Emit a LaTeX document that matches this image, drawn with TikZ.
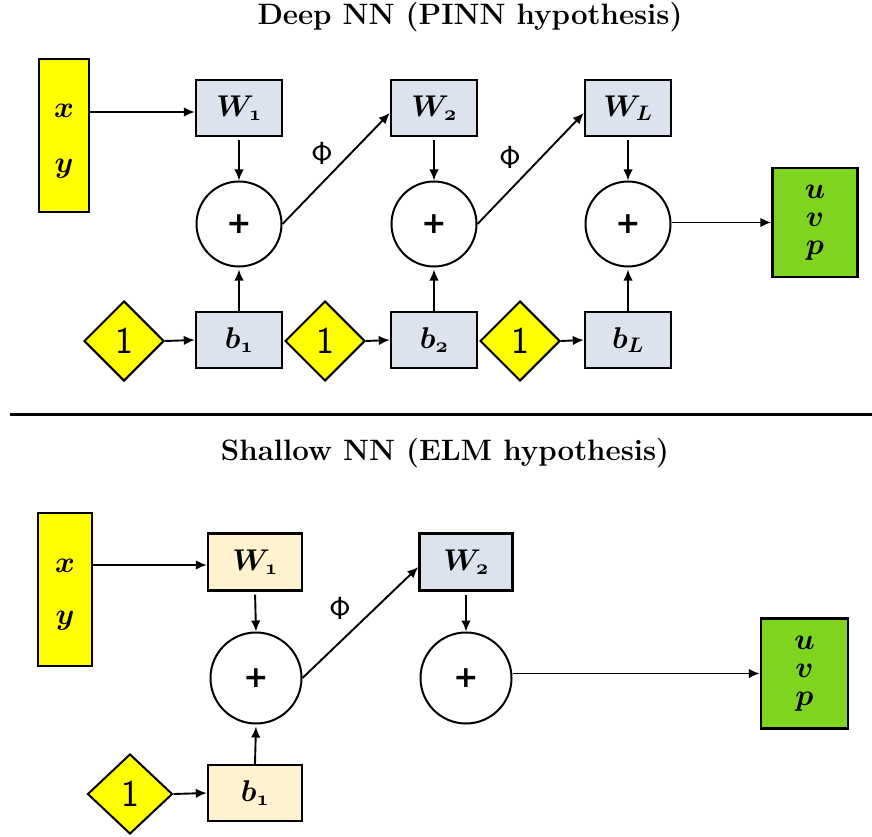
\RequirePackage{fix-cm}
\documentclass[tikz,border=0pt]{standalone}
\usepackage[no-math]{fontspec}
\newfontfamily\plusfont{DejaVu Sans}
\usetikzlibrary{shapes.geometric,arrows.meta}
\definecolor{boxblue}{HTML}{DCE3EE}
\definecolor{boxcream}{HTML}{FFF2CF}
\definecolor{outgreen}{HTML}{7ED41E}
\definecolor{inyellow}{HTML}{FFFF00}
\begin{document}
\begin{tikzpicture}[x=1pt,y=-1pt,
  mfont/.style={font=\boldmath\fontsize{30}{30}\selectfont},
  wbox/.style={draw, line width=2.4pt, fill=boxblue, minimum width=86pt, minimum height=56pt, inner sep=0pt, mfont},
  cbox/.style={wbox, fill=boxcream, minimum width=94pt, minimum height=57pt},
  sumc/.style={circle, draw, line width=2pt, minimum size=85pt, inner sep=0pt, font=\plusfont\bfseries\fontsize{30}{30}\selectfont},
  onedia/.style={diamond, draw, line width=2pt, fill=inyellow, minimum width=80pt, minimum height=80pt, inner sep=0pt, font=\sffamily\fontsize{38}{38}\selectfont},
  inbox/.style={draw, line width=2.4pt, fill=inyellow, inner sep=0pt},
  outbox/.style={draw, line width=2.4pt, fill=outgreen, inner sep=0pt, align=center, font=\boldmath\fontsize{30}{28}\selectfont},
  mlab/.style={mfont, anchor=base, inner sep=0pt},
  philab/.style={font=\fontsize{32}{32}\selectfont, inner sep=0pt},
  ttl/.style={font=\bfseries\fontsize{29.5}{34}\selectfont, inner sep=0pt},
  arr/.style={-{Latex[length=11pt,width=9.5pt]}, line width=1.9pt}
]
\useasboundingbox (0,0) rectangle (872,837);

% ---------- Deep NN ----------
\node[ttl] (t1) at (470,17) {Deep NN (PINN hypothesis)};

\node[inbox, minimum width=50pt, minimum height=153pt] (xy1) at (64,135.5) {};
\node[mlab] (x1) at (64,118) {$x$};
\node[mlab] (y1) at (64,172) {$y$};

\node[wbox] (W1) at (239,108) {$W_{\mathnormal{1}}$};
\node[wbox] (W2) at (434,108) {$W_{\mathnormal{2}}$};
\node[wbox] (WL) at (628,108) {$W_L$};

\node[sumc] (C1) at (239,224) {+};
\node[sumc] (C2) at (434,224) {+};
\node[sumc] (C3) at (628,224) {+};

\node[wbox] (b1) at (239,340) {$b_{\mathnormal{1}}$};
\node[wbox] (b2) at (434,340) {$b_{\mathnormal{2}}$};
\node[wbox] (bL) at (628,340) {$b_L$};

\node[onedia] (D1) at (124,341) {1};
\node[onedia] (D2) at (325,341) {1};
\node[onedia] (D3) at (520,341) {1};

\node[outbox, minimum width=85pt, minimum height=109pt] (o1) at (815,222.5) {$u$\\$v$\\$p$};

\node[philab] (ph1) at (322,153) {$\mathsf{\Phi}$};
\node[philab] (ph2) at (510,157) {$\mathsf{\Phi}$};

\draw[arr] (xy1.east |- 0,112) -- (W1.west |- 0,112);
\foreach \w/\c/\b/\d in {W1/C1/b1/D1, W2/C2/b2/D2, WL/C3/bL/D3}{
  \draw[arr, shorten <=3pt] (\w.south) -- (\c.north);
  \draw[arr, shorten >=2pt] (\b.north) -- (\c.south);
  \draw[arr] (\d.east) -- (\b.west);
}
\draw[arr] (C1.east) -- ([yshift=-5pt]W2.west);
\draw[arr] (C2.east) -- ([yshift=-5pt]WL.west);
\draw[arr] (C3.east |- o1.west) -- (o1.west);

% divider
\draw[line width=3pt] (10,414) -- (872,414);

% ---------- Shallow NN ----------
\node[ttl] (t2) at (445,453) {Shallow NN (ELM hypothesis)};

\node[inbox, minimum width=54pt, minimum height=153pt] (xy2) at (65,589.5) {};
\node[mlab] (x2) at (65,572) {$x$};
\node[mlab] (y2) at (65,624) {$y$};

\node[cbox] (SW1) at (255,562) {$W_{\mathnormal{1}}$};
\node[wbox, minimum width=93pt, minimum height=57pt] (SW2) at (466,562) {$W_{\mathnormal{2}}$};

\node[sumc, minimum size=91pt] (SC1) at (256,678) {+};
\node[sumc, minimum size=91pt] (SC2) at (466,678) {+};

\node[cbox, minimum height=56pt] (Sb1) at (255,793) {$b_{\mathnormal{1}}$};
\node[onedia, minimum width=85pt] (SD1) at (130,794) {1};

\node[outbox, minimum width=87pt, minimum height=110pt] (o2) at (804.5,673.5) {$u$\\$v$\\$p$};

\node[philab] (ph3) at (340,608) {$\mathsf{\Phi}$};

\draw[arr] (xy2.east |- 0,565) -- (SW1.west |- 0,565);
\draw[arr, shorten <=3pt] (SW1.south) -- (SC1.north);
\draw[arr, shorten >=2pt] (Sb1.north) -- (SC1.south);
\draw[arr] (SD1.east) -- (Sb1.west);
\draw[arr] (SC1.east) -- ([yshift=-5pt]SW2.west);
\draw[arr, shorten <=3pt] (SW2.south) -- (SC2.north);
\draw[arr] (SC2.east |- o2.west) -- (o2.west);
\end{tikzpicture}
\end{document}
